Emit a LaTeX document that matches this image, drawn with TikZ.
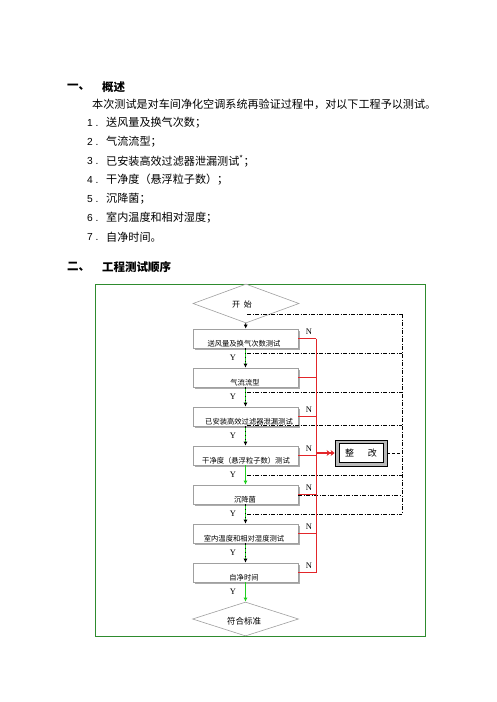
\documentclass[tikz,border=0pt]{standalone}
\usepackage{fontspec}
\setmainfont{Liberation Serif}
\newfontfamily\cjk{Noto Sans CJK SC}
\newfontfamily\arialf{Liberation Sans}
\usetikzlibrary{arrows.meta,shapes.geometric,shadows}
\definecolor{frameg}{HTML}{2E8B2E}
\definecolor{arrg}{HTML}{1FD01F}
\definecolor{redl}{HTML}{E3262A}
\definecolor{boxg}{HTML}{A0A0A0}
\begin{document}
\begin{tikzpicture}[x=1pt,y=-1pt,
  txt/.style={anchor=west, inner sep=0pt, font=\cjk\fontsize{11.1}{12}\selectfont},
  num/.style={anchor=west, inner sep=0pt, font=\arialf\fontsize{10.2}{12}\selectfont},
  head/.style={anchor=west, inner sep=0pt, font=\cjk\bfseries\fontsize{11.5}{13}\selectfont},
  fbox/.style={rectangle, draw=boxg, fill=white, line width=0.6pt, minimum width=105pt, minimum height=19pt, inner sep=0pt,
     drop shadow={shadow xshift=1.6pt, shadow yshift=-1.6pt, fill=gray!65, opacity=1}},
  btxt/.style={inner sep=0pt, font=\cjk\fontsize{7.3}{8}\selectfont},
  dia/.style={diamond, draw=boxg, fill=white, line width=0.6pt, minimum width=106pt, inner sep=0pt, aspect=2.7},
  yn/.style={inner sep=0pt, font=\fontsize{8.5}{9}\selectfont},
  ddot/.style={black, line width=0.7pt, dash pattern=on 4pt off 1.5pt on 1pt off 1.5pt},
  redline/.style={redl, line width=0.9pt},
  tipk/.style={-{Latex[length=4pt,width=4pt]}},
  garr/.style={black, line width=1.1pt, dash pattern=on 1.2pt off 3pt, tipk,
     preaction={draw=arrg, -, solid, shorten >=4pt}}
]
\useasboundingbox (0,0) rectangle (496,702);
% header text
\node[head] (h1a) at (67,87) {一、};
\node[head] (h1b) at (102,87) {概述};
\node[txt] (para) at (92,104) {本次测试是对车间净化空调系统再验证过程中，对以下工程予以测试。};
\node[num] (n1) at (87,123) {1 .}; \node[txt] (i1) at (106,123) {送风量及换气次数；};
\node[num] (n2) at (87,142) {2 .}; \node[txt] (i2) at (106,142) {气流流型；};
\node[num] (n3) at (87,161) {3 .}; \node[txt] (i3) at (106,161) {已安装高效过滤器泄漏测试\textsuperscript{*}；};
\node[num] (n4) at (87,180) {4 .}; \node[txt] (i4) at (106,180) {干净度（悬浮粒子数）；};
\node[num] (n5) at (87,199) {5 .}; \node[txt] (i5) at (106,199) {沉降菌；};
\node[num] (n6) at (87,218) {6 .}; \node[txt] (i6) at (106,218) {室内温度和相对湿度；};
\node[num] (n7) at (87,237) {7 .}; \node[txt] (i7) at (106,237) {自净时间。};
\node[head] (h2a) at (67,267) {二、};
\node[head] (h2b) at (102,267) {工程测试顺序};
% frame
\node[draw=frameg, line width=0.9pt, minimum width=330pt, minimum height=352pt, inner sep=0pt] (frame) at (260,460) {};
% dash-dot feedback lines
\coordinate (l1) at (247,314); \coordinate (r1) at (402,314);
\coordinate (l2) at (247,353); \coordinate (r2) at (402,353);
\coordinate (l3) at (247,392); \coordinate (r3) at (402,392);
\coordinate (l5) at (247,475); \coordinate (r5) at (402,475);
\coordinate (r6) at (402,495);
\coordinate (l7) at (247,514); \coordinate (r7) at (402,514);
\coordinate (zr) at (402,453);
\draw[ddot] (l2) -- (r2);
\draw[ddot] (l3) -- (r3);
\draw[ddot] (l5) -- (r5);
\draw[ddot] (l7) -- (r7);
\draw[ddot] (r1) -- (r7);
% nodes
\node[dia, minimum height=39pt] (start) at (246,303.5) {};
\node[btxt, font=\cjk\fontsize{8}{9}\selectfont] (st) at (242,304) {开\ \ 始};
\draw[ddot] (l1) -- (r1);
\node[fbox] (b1) at (245.5,338.5) {};
\node[fbox] (b2) at (245.5,377.5) {};
\node[fbox] (b3) at (245.5,416.5) {};
\node[fbox] (b4) at (245.5,455.5) {};
\node[fbox] (b5) at (245.5,494.5) {};
\node[fbox] (b6) at (245.5,533.5) {};
\node[fbox] (b7) at (245.5,572.5) {};
\node[btxt] (t1) at (244,344) {送风量及换气次数测试};
\node[btxt] (t2) at (245,383) {气流流型};
\node[btxt] (t3) at (249,422) {已安装高效过滤器泄漏测试};
\node[btxt] (t4) at (246,461) {干净度（悬浮粒子数）测试};
\node[btxt] (t5) at (245,500) {沉降菌};
\node[btxt] (t6) at (244,539) {室内温度和相对湿度测试};
\node[btxt] (t7) at (244,578) {自净时间};
\coordinate (l4) at (247,425); \coordinate (r4) at (402,425);
\draw[ddot] (l4) -- (r4);
\draw[ddot] (b5.east |- r6) -- (r6);
\node[dia, minimum height=34pt] (end) at (245.5,619) {};
\node[btxt, font=\cjk\fontsize{8.5}{9}\selectfont] (et) at (244,621) {符合标准};
% main arrows
\draw[black, line width=0.9pt, dash pattern=on 2pt off 1.5pt, tipk] (start) -- (b1);
\draw[garr] (b1) -- (b2);
\draw[garr] (b2) -- (b3);
\draw[garr] (b3) -- (b4);
\draw[arrg, line width=1.1pt, tipk] (b4) -- (b5);
\draw[garr] (b5) -- (b6);
\draw[garr] (b6) -- (b7);
\draw[arrg, line width=1.1pt, -{Latex[length=4pt,width=4pt]}] (b7) -- (end);
% Y labels
\node[yn] (y1) at (233,358) {Y};
\node[yn] (y2) at (233,397) {Y};
\node[yn] (y3) at (233,436) {Y};
\node[yn] (y4) at (233,475) {Y};
\node[yn] (y5) at (233,514) {Y};
\node[yn] (y6) at (233,553) {Y};
\node[yn] (y7) at (233,592) {Y};
% red N lines
\coordinate (rtop) at (316,338.5);
\coordinate (rbot) at (316,572.5);
\draw[redline] (b1.east) -- (b1.east -| rtop);
\draw[redline] (b2.east) -- (b2.east -| rtop);
\draw[redline] (b3.east) -- (b3.east -| rtop);
\draw[redline] (b4.east) -- (b4.east -| rtop);
\draw[redline] (b5.east) -- (b5.east -| rtop);
\draw[redline] (b6.east) -- (b6.east -| rtop);
\draw[redline] (b7.east) -- (b7.east -| rtop);
\draw[redline] (rtop) -- (rbot);
\node[yn] (nn1) at (309,332) {N};
\node[yn] (nn3) at (309,410) {N};
\node[yn] (nn4) at (309,449) {N};
\node[yn] (nn5) at (309,488) {N};
\node[yn] (nn6) at (309,527) {N};
\node[yn] (nn7) at (309,566) {N};
% rectify box
\node[draw=black, fill=gray!55, line width=0.8pt, minimum width=52pt, minimum height=26pt, inner sep=0pt] (zg) at (361,453) {};
\node[draw=black, fill=white, line width=0.8pt, minimum width=44pt, minimum height=19pt, inner sep=0pt,
  font=\cjk\fontsize{9}{10}\selectfont] (zgi) at (361,453) {整\hspace{14pt}改};
\draw[redl, line width=1.8pt, -{Stealth[length=4pt,width=6pt]Stealth[length=4pt,width=6pt]}] (zg.west -| rtop) -- (zg.west);
\draw[black, line width=1pt, dash pattern=on 3pt off 2pt] (zg.east) -- (zr);
\end{tikzpicture}
\end{document}
